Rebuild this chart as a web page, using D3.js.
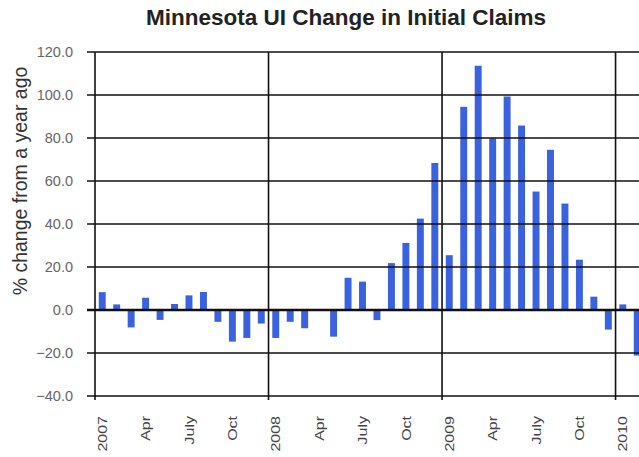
<!DOCTYPE html>
<html>
<head>
<meta charset="utf-8">
<script src="https://cdn.jsdelivr.net/npm/d3@7"></script>
<style>
  body { margin: 0; background: #fff; overflow: hidden; }
  text { font-family: "Liberation Sans", Arial, sans-serif; }
</style>
</head>
<body>
<div id="chart"></div>
<script>
// Months shown in the chart (Jan 2007 - Feb 2010)
let months = [
  "2007-01","2007-02","2007-03","2007-04","2007-05","2007-06",
  "2007-07","2007-08","2007-09","2007-10","2007-11","2007-12",
  "2008-01","2008-02","2008-03","2008-04","2008-05","2008-06",
  "2008-07","2008-08","2008-09","2008-10","2008-11","2008-12",
  "2009-01","2009-02","2009-03","2009-04","2009-05","2009-06",
  "2009-07","2009-08","2009-09","2009-10","2009-11","2009-12",
  "2010-01","2010-02"
]

// % change from a year ago in initial claims
let values = [
  8.3, 2.6, -8.1, 5.7, -4.6, 2.8, 6.8, 8.4, -5.5, -14.7, -13.0, -6.3,
  -13.0, -5.5, -8.5, 0.0, -12.4, 15.0, 13.2, -4.7, 21.8, 31.2, 42.5, 68.4,
  25.5, 94.5, 113.6, 79.8, 99.3, 85.8, 55.1, 74.5, 49.5, 23.4, 6.2, -9.1,
  2.6, -21.2
]

// y axis ticks
let yTicks = [-40, -20, 0, 20, 40, 60, 80, 100, 120]

// category labels (every third month)
let tickMonths = ["2007-01","2007-04","2007-07","2007-10","2008-01","2008-04","2008-07",
  "2008-10","2009-01","2009-04","2009-07","2009-10","2010-01"]
let tickLabels = ["2007","Apr","July","Oct","2008","Apr","July","Oct","2009","Apr","July","Oct","2010"]

// year boundaries
let yearStarts = ["2007-01","2008-01","2009-01","2010-01"]

let width = 639, height = 457

let svg = d3.select("#chart")
  .append("svg")
  .attr("width", width)
  .attr("height", height)

// the category axis runs through 2010, the picture is cut at the right
let allMonths = []
for (let yr = 2007; yr <= 2010; yr++) {
  for (let m = 1; m <= 12; m++) allMonths.push(yr + "-" + (m < 10 ? "0" + m : m))
}

let x = d3.scaleBand()
  .domain(allMonths)
  .range([95, 95 + 48 * 14.46])

let y = d3.scaleLinear()
  .domain([-40, 120])
  .range([396, 52])

let barWidth = x.bandwidth() * 0.48

// bars
svg.selectAll("rect.bar")
  .data(values)
  .enter()
  .append("rect")
  .attr("class", "bar")
  .attr("x", function(d, i) { return x(months[i]) + x.bandwidth() / 2 - barWidth / 2 })
  .attr("width", barWidth)
  .attr("y", function(d) { return y(Math.max(0, d)) })
  .attr("height", function(d) { return Math.abs(y(d) - y(0)) })
  .attr("fill", "#3a62de")

// horizontal gridlines (with tick stubs on the left)
svg.selectAll("line.grid")
  .data(yTicks)
  .enter()
  .append("line")
  .attr("x1", 87)
  .attr("x2", width)
  .attr("y1", function(d) { return y(d) })
  .attr("y2", function(d) { return y(d) })
  .attr("stroke", "#111")
  .attr("stroke-width", function(d) { return d == 0 ? 2.6 : 1.6 })

// vertical year lines
svg.selectAll("line.year")
  .data(yearStarts)
  .enter()
  .append("line")
  .attr("x1", function(d) { return x(d) })
  .attr("x2", function(d) { return x(d) })
  .attr("y1", y(120))
  .attr("y2", y(-40) + 4)
  .attr("stroke", "#111")
  .attr("stroke-width", 1.6)

// y tick labels
svg.selectAll("text.ytick")
  .data(yTicks)
  .enter()
  .append("text")
  .attr("x", 73)
  .attr("y", function(d) { return y(d) })
  .attr("dy", "0.36em")
  .attr("text-anchor", "end")
  .attr("font-size", "14.5px")
  .attr("fill", "#666")
  .text(function(d) { return d3.format(".1f")(d) })

// x category labels, rotated
svg.selectAll("text.xtick")
  .data(tickLabels)
  .enter()
  .append("text")
  .attr("transform", function(d, i) {
    let cx = x(tickMonths[i]) + x.bandwidth() / 2
    return "translate(" + cx + ",416) rotate(-90) scale(1,0.8)"
  })
  .attr("dy", "0.36em")
  .attr("text-anchor", "end")
  .attr("font-size", "16px")
  .attr("fill", "#444")
  .text(function(d) { return d })

// title
svg.append("text")
  .attr("x", 346)
  .attr("y", 25)
  .attr("text-anchor", "middle")
  .attr("font-size", "22.5px")
  .attr("font-weight", "bold")
  .attr("fill", "#222")
  .text("Minnesota UI Change in Initial Claims")

// y axis title
svg.append("text")
  .attr("transform", "translate(27,181) rotate(-90)")
  .attr("text-anchor", "middle")
  .attr("font-size", "19.5px")
  .attr("fill", "#333")
  .text("% change from a year ago")
</script>
</body>
</html>
